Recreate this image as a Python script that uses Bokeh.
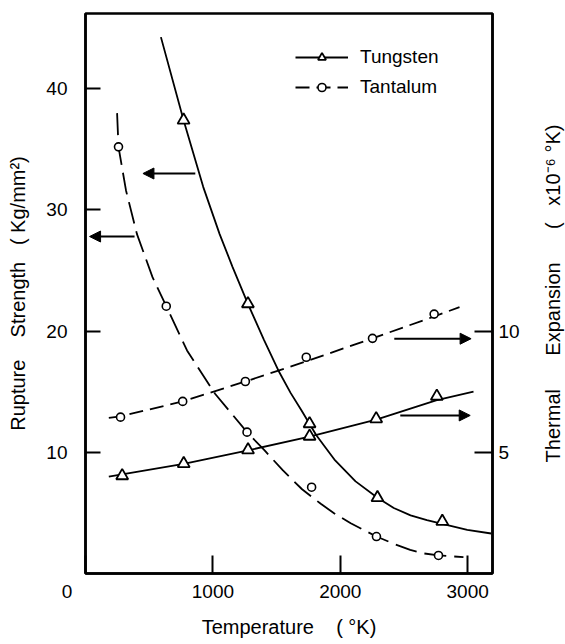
from bokeh.plotting import figure
from bokeh.layouts import row
from bokeh.models import (Range1d, LinearAxis, FixedTicker, Arrow, NormalHead,
                          Legend, LegendItem)
from bokeh.embed import file_html
from bokeh.resources import INLINE

FONT = "Liberation Sans"

# ---------------- data ----------------
# Rupture strength (Kg/mm^2) - measured points
w_str_T = [770, 1275, 1759, 2292, 2801]
w_str_v = [37.4, 22.25, 12.35, 6.25, 4.3]
ta_str_T = [259, 634, 1268, 1775, 2284, 2771]
ta_str_v = [35.2, 22.05, 11.66, 7.12, 3.05, 1.49]

# Rupture strength - drawn curves
w_str_curve_T = [592, 770, 924, 1053, 1154, 1275, 1400, 1514, 1610, 1696, 1812,
                 1954, 2120, 2292, 2420, 2552, 2680, 2801, 2997, 3185]
w_str_curve_v = [44.25, 37.4, 31.9, 28.0, 25.3, 22.25, 19.3, 16.75, 14.9, 13.45,
                 11.4, 9.4, 7.6, 6.25, 5.4, 4.8, 4.4, 4.1, 3.6, 3.3]
ta_str_curve_T = [248, 259, 318, 404, 526, 634, 797, 1017, 1268, 1406, 1550,
                  1700, 1847, 1954, 2082, 2284, 2420, 2549, 2660, 2771, 2967]
ta_str_curve_v = [37.98, 35.2, 31.6, 28.0, 24.45, 22.05, 18.4, 14.83, 11.66,
                  10.15, 8.5, 6.95, 5.75, 4.95, 4.15, 3.05, 2.45, 1.95, 1.65,
                  1.49, 1.35]

# Thermal expansion (x10^-6 /K) - measured points
w_te_T = [288, 771, 1276, 1759, 2282, 2758]
w_te_v = [4.03, 4.53, 5.1, 5.66, 6.38, 7.31]
ta_te_T = [275, 763, 1255, 1733, 2253, 2737]
ta_te_v = [6.45, 7.1, 7.92, 8.92, 9.7, 10.7]

# Thermal expansion - drawn curves
w_te_curve_T = [183, 771, 1276, 1759, 2282, 2758, 3046]
w_te_curve_v = [4.0, 4.52, 5.08, 5.65, 6.35, 7.15, 7.5]
ta_te_curve_T = [183, 275, 763, 1255, 1733, 2253, 2737, 2936]
ta_te_curve_v = [6.42, 6.48, 7.1, 7.92, 8.75, 9.7, 10.6, 10.99]

# axis ticks
x_ticks = [0, 1000, 2000, 3000]
x_tick_labels = {0: "0" + "\u00a0" * 7}
left_ticks = [10, 20, 30, 40]
right_ticks = [5, 10]

# arrows (x_start, y_start, x_end, y_end) in temperature / left-axis units
arrows = [
    (862, 33.0, 451, 33.0),
    (385, 27.8, 32, 27.8),
    (2424, 19.37, 3027, 19.37),
    (2471, 13.04, 3020, 13.04),
]

NB = "\u00a0"
x_title = "Temperature" + NB * 4 + "(" + NB + "°K)"
left_title = "Rupture" + NB * 4 + "Strength" + NB * 3 + "(" + NB + "Kg/mm²)"
right_title = ("Thermal" + NB * 6 + "Expansion" + NB * 6 + "(" + NB * 3
               + "x10⁻⁶" + NB + "°K)")

# ---------------- main figure ----------------
p = figure(width=530, height=644,
           x_range=Range1d(0, 3195), y_range=Range1d(0, 46.2),
           output_backend="svg", toolbar_location=None,
           min_border_left=85, min_border_right=38,
           min_border_top=13, min_border_bottom=71)
p.extra_y_ranges = {"te": Range1d(0, 23.1)}
p.grid.visible = False
p.outline_line_color = "black"
p.outline_line_width = 2.5
p.background_fill_color = "white"
p.border_fill_color = "white"


def style_axis(ax, ticks, tick_len, standoff, label_standoff):
    ax.ticker = FixedTicker(ticks=ticks)
    ax.major_tick_in = tick_len
    ax.major_tick_out = 0
    ax.minor_tick_in = 0
    ax.minor_tick_out = 0
    ax.axis_line_width = 2.5
    ax.axis_line_color = "black"
    ax.major_tick_line_width = 2
    ax.major_tick_line_color = "black"
    ax.major_label_text_font = FONT
    ax.major_label_text_font_size = "19px"
    ax.major_label_text_color = "black"
    ax.major_label_standoff = standoff
    ax.axis_label_text_font = FONT
    ax.axis_label_text_font_size = "20px"
    ax.axis_label_text_font_style = "normal"
    ax.axis_label_text_color = "black"
    ax.axis_label_standoff = label_standoff


xa = p.xaxis[0]
style_axis(xa, x_ticks, 18, 7, 11)
xa.major_label_overrides = x_tick_labels
xa.axis_label = x_title

ya = p.yaxis[0]
style_axis(ya, left_ticks, 15, 18, 14)
ya.axis_label = left_title

ra = LinearAxis(y_range_name="te")
style_axis(ra, right_ticks, 18, 6, 0)
p.add_layout(ra, "right")

# curves
p.line(w_str_curve_T, w_str_curve_v, line_color="black", line_width=1.8)
p.line(ta_str_curve_T, ta_str_curve_v, line_color="black", line_width=1.8,
       line_dash="22 8")
w_te_line = p.line(w_te_curve_T, w_te_curve_v, y_range_name="te",
                   line_color="black", line_width=1.8)
ta_te_line = p.line(ta_te_curve_T, ta_te_curve_v, y_range_name="te",
                    line_color="black", line_width=1.8, line_dash="14 7")

# markers
p.scatter(w_str_T, w_str_v, marker="triangle", size=12, fill_color="white",
          line_color="black", line_width=1.8)
p.scatter(ta_str_T, ta_str_v, marker="circle", size=8, fill_color="white",
          line_color="black", line_width=1.6)
w_te_mark = p.scatter(w_te_T, w_te_v, y_range_name="te", marker="triangle",
                      size=12, fill_color="white", line_color="black",
                      line_width=1.8)
ta_te_mark = p.scatter(ta_te_T, ta_te_v, y_range_name="te", marker="circle",
                       size=8, fill_color="white", line_color="black",
                       line_width=1.6)

# arrows
for x0, y0, x1, y1 in arrows:
    p.add_layout(Arrow(end=NormalHead(size=11, fill_color="black",
                                      line_color="black", line_width=1),
                       x_start=x0, y_start=y0, x_end=x1, y_end=y1,
                       line_width=2, line_color="black"))

legend = Legend(items=[LegendItem(label="Tungsten", renderers=[w_te_line, w_te_mark]),
                       LegendItem(label="Tantalum", renderers=[ta_te_line, ta_te_mark])],
                location=(210, 475), orientation="vertical",
                glyph_width=53, glyph_height=20, label_height=20,
                label_standoff=12, spacing=8, padding=0, margin=0,
                label_text_font=FONT, label_text_font_size="19px",
                label_text_color="black",
                border_line_alpha=0, background_fill_alpha=0)
p.add_layout(legend)

# ---------------- narrow strip carrying the right-hand title ----------------
p2 = figure(width=35, height=644, x_range=Range1d(0, 1), y_range=Range1d(0, 1),
            output_backend="svg", toolbar_location=None,
            min_border_left=33, min_border_right=0,
            min_border_top=13, min_border_bottom=71)
p2.outline_line_color = None
p2.grid.visible = False
p2.background_fill_color = "white"
p2.border_fill_color = "white"
p2.xaxis.visible = False
ta2 = p2.yaxis[0]
ta2.ticker = FixedTicker(ticks=[])
ta2.axis_line_color = None
ta2.major_tick_line_color = None
ta2.minor_tick_line_color = None
ta2.axis_label = right_title
ta2.axis_label_text_font = FONT
ta2.axis_label_text_font_size = "20px"
ta2.axis_label_text_font_style = "normal"
ta2.axis_label_text_color = "black"
ta2.axis_label_standoff = 0
p2.scatter([0.5], [0.5], size=0, alpha=0)

layout = row(p, p2, spacing=0)

open("out.html", "w").write(file_html(layout, INLINE))
